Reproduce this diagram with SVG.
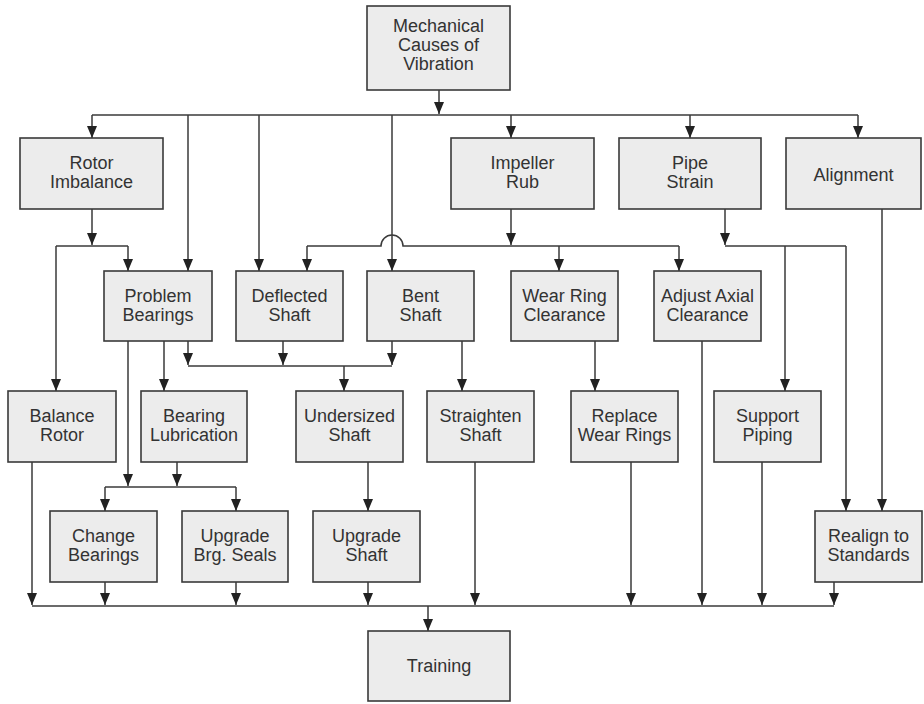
<svg xmlns="http://www.w3.org/2000/svg" width="924" height="704" viewBox="0 0 924 704">
<style>
.box{fill:#ececec;stroke:#3a3a3a;stroke-width:1.6}
.t{font-family:"Liberation Sans",Arial,sans-serif;font-size:18px;fill:#333;text-anchor:middle}
.c{fill:none;stroke:#3a3a3a;stroke-width:1.5}
.a{marker-end:url(#ah)}
</style>
<defs>
<marker id="ah" markerUnits="userSpaceOnUse" markerWidth="12" markerHeight="10" viewBox="0 0 12 10" refX="12" refY="5" orient="auto">
<path d="M0 0 L12 5 L0 10 Z" fill="#222"/>
</marker>
</defs>
<rect width="924" height="704" fill="#fff"/>
<g id="connectors">
<path class="c a" d="M439 90 V114"/>
<path class="c" d="M92 115 H858"/>
<path class="c a" d="M92 115 V138"/>
<path class="c a" d="M188 115 V271"/>
<path class="c a" d="M259 115 V271"/>
<path class="c a" d="M392 115 V271"/>
<path class="c a" d="M511 115 V138"/>
<path class="c a" d="M690 115 V138"/>
<path class="c a" d="M858 115 V138"/>
<path class="c a" d="M92 209 V245"/>
<path class="c" d="M56 246 H128"/>
<path class="c a" d="M56 246 V391"/>
<path class="c a" d="M128 246 V271"/>
<path class="c a" d="M511 209 V245"/>
<path class="c" d="M307 246 H381 A11 11 0 0 1 403 246 H679"/>
<path class="c a" d="M307 246 V271"/>
<path class="c a" d="M559 246 V271"/>
<path class="c a" d="M679 246 V271"/>
<path class="c a" d="M725 209 V245"/>
<path class="c" d="M725 246 H846"/>
<path class="c a" d="M785 246 V391"/>
<path class="c a" d="M846 246 V511"/>
<path class="c a" d="M882 209 V511"/>
<path class="c a" d="M128 341 V486"/>
<path class="c a" d="M164 341 V391"/>
<path class="c a" d="M188 341 V365"/>
<path class="c" d="M188 366 H392"/>
<path class="c a" d="M283 341 V365"/>
<path class="c a" d="M392 341 V365"/>
<path class="c a" d="M344 366 V391"/>
<path class="c a" d="M462 341 V391"/>
<path class="c a" d="M595 341 V391"/>
<path class="c a" d="M702 341 V605"/>
<path class="c a" d="M177 462 V486"/>
<path class="c" d="M105 487 H236"/>
<path class="c a" d="M105 487 V511"/>
<path class="c a" d="M236 487 V511"/>
<path class="c a" d="M368 462 V511"/>
<path class="c a" d="M32 462 V605"/>
<path class="c a" d="M105 582 V605"/>
<path class="c a" d="M236 582 V605"/>
<path class="c a" d="M368 582 V605"/>
<path class="c a" d="M475 462 V605"/>
<path class="c a" d="M631 462 V605"/>
<path class="c a" d="M762 462 V605"/>
<path class="c a" d="M834 582 V605"/>
<path class="c" d="M32 606 H834"/>
<path class="c a" d="M428 606 V631"/>
</g>
<g id="n-mech"><rect class="box" x="367" y="6" width="143" height="84"/><text class="t" x="438.5" y="32">Mechanical</text><text class="t" x="438.5" y="51">Causes of</text><text class="t" x="438.5" y="70">Vibration</text></g>
<g id="n-rotor"><rect class="box" x="20" y="138" width="143" height="71"/><text class="t" x="91.5" y="169">Rotor</text><text class="t" x="91.5" y="188">Imbalance</text></g>
<g id="n-impeller"><rect class="box" x="451" y="138" width="143" height="71"/><text class="t" x="522.5" y="169">Impeller</text><text class="t" x="522.5" y="188">Rub</text></g>
<g id="n-pipe"><rect class="box" x="619" y="138" width="142" height="71"/><text class="t" x="690" y="169">Pipe</text><text class="t" x="690" y="188">Strain</text></g>
<g id="n-align"><rect class="box" x="786" y="138" width="135" height="71"/><text class="t" x="853.5" y="181">Alignment</text></g>
<g id="n-pb"><rect class="box" x="104" y="271" width="108" height="70"/><text class="t" x="158" y="302">Problem</text><text class="t" x="158" y="321">Bearings</text></g>
<g id="n-defl"><rect class="box" x="236" y="271" width="107" height="70"/><text class="t" x="289.5" y="302">Deflected</text><text class="t" x="289.5" y="321">Shaft</text></g>
<g id="n-bent"><rect class="box" x="367" y="271" width="107" height="70"/><text class="t" x="420.5" y="302">Bent</text><text class="t" x="420.5" y="321">Shaft</text></g>
<g id="n-wrc"><rect class="box" x="511" y="271" width="107" height="70"/><text class="t" x="564.5" y="302">Wear Ring</text><text class="t" x="564.5" y="321">Clearance</text></g>
<g id="n-aac"><rect class="box" x="654" y="271" width="107" height="70"/><text class="t" x="707.5" y="302">Adjust Axial</text><text class="t" x="707.5" y="321">Clearance</text></g>
<g id="n-balance"><rect class="box" x="8" y="391" width="108" height="71"/><text class="t" x="62" y="422">Balance</text><text class="t" x="62" y="441">Rotor</text></g>
<g id="n-lub"><rect class="box" x="141" y="391" width="106" height="71"/><text class="t" x="194" y="422">Bearing</text><text class="t" x="194" y="441">Lubrication</text></g>
<g id="n-under"><rect class="box" x="296" y="391" width="107" height="71"/><text class="t" x="349.5" y="422">Undersized</text><text class="t" x="349.5" y="441">Shaft</text></g>
<g id="n-straight"><rect class="box" x="427" y="391" width="107" height="71"/><text class="t" x="480.5" y="422">Straighten</text><text class="t" x="480.5" y="441">Shaft</text></g>
<g id="n-replace"><rect class="box" x="571" y="391" width="107" height="71"/><text class="t" x="624.5" y="422">Replace</text><text class="t" x="624.5" y="441">Wear Rings</text></g>
<g id="n-support"><rect class="box" x="714" y="391" width="107" height="71"/><text class="t" x="767.5" y="422">Support</text><text class="t" x="767.5" y="441">Piping</text></g>
<g id="n-change"><rect class="box" x="50" y="511" width="107" height="71"/><text class="t" x="103.5" y="542">Change</text><text class="t" x="103.5" y="561">Bearings</text></g>
<g id="n-seals"><rect class="box" x="182" y="511" width="106" height="71"/><text class="t" x="235" y="542">Upgrade</text><text class="t" x="235" y="561">Brg. Seals</text></g>
<g id="n-ushaft"><rect class="box" x="313" y="511" width="107" height="71"/><text class="t" x="366.5" y="542">Upgrade</text><text class="t" x="366.5" y="561">Shaft</text></g>
<g id="n-realign"><rect class="box" x="815" y="511" width="107" height="71"/><text class="t" x="868.5" y="542">Realign to</text><text class="t" x="868.5" y="561">Standards</text></g>
<g id="n-training"><rect class="box" x="368" y="631" width="142" height="70"/><text class="t" x="439" y="672">Training</text></g>
</svg>
